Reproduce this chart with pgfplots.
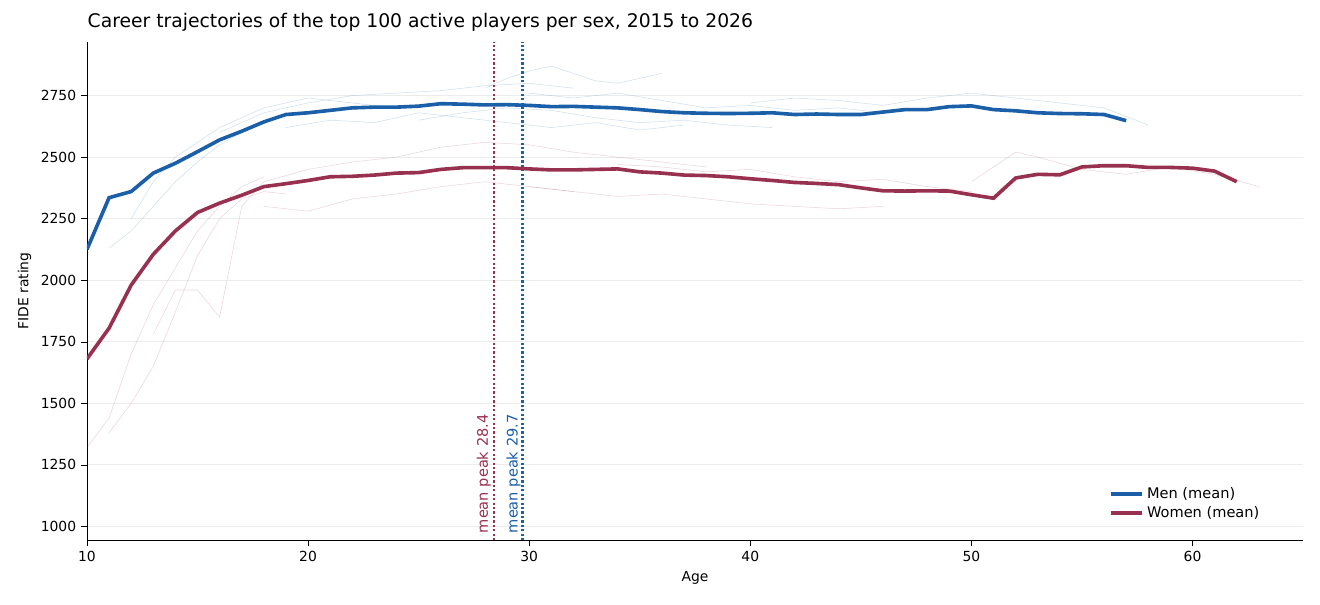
\documentclass[border=0pt]{standalone}
\usepackage{pgfplots}
\pgfplotsset{compat=1.18}
\usepackage{fontspec}
\setmainfont{DejaVu Sans}
\definecolor{menc}{HTML}{1A5FA8}
\definecolor{womc}{HTML}{98304F}
\begin{document}
\begin{tikzpicture}
\begin{axis}[
  scale only axis, width=875.5pt, height=359pt,
  xmin=10, xmax=65, ymin=943, ymax=2969,
  axis lines=left, axis line style={-},
  tick align=outside, tick style={black},
  xtick={10,20,30,40,50,60}, ytick={1000,1250,1500,1750,2000,2250,2500,2750},
  ymajorgrids, grid style={gray!15},
  /pgf/number format/assume math mode=true,
  /pgf/number format/1000 sep={},
  tick label style={font=\fontsize{10}{12}\selectfont},
  xlabel={Age}, ylabel={FIDE rating},
  label style={font=\fontsize{10}{12}\selectfont},
  title={Career trajectories of the top 100 active players per sex, 2015 to 2026},
  title style={font=\fontsize{13.5}{15}\selectfont, anchor=south west, at={(rel axis cs:0,1)}, yshift=-2pt, xshift=-3pt},
  legend pos=south east, legend cell align=left,
  legend style={draw=none, fill=white, font=\fontsize{10.5}{13}\selectfont},
  legend image code/.code={\draw[#1] (0cm,0cm) -- (0.8cm,0cm);},
]
% faint individual trajectories (men)
\addplot[menc, opacity=0.2, forget plot] coordinates {(16,2600)(18,2680)(20,2720)(22,2750)(24,2760)(26,2770)(28,2790)(30,2800)(32,2780)};
\addplot[menc, opacity=0.2, forget plot] coordinates {(12,2250)(13,2400)(14,2500)(16,2620)(18,2700)(20,2740)(22,2720)(24,2700)};
\addplot[menc, opacity=0.2, forget plot] coordinates {(25,2650)(27,2680)(29,2700)(31,2690)(33,2660)(35,2640)(37,2650)(39,2630)(41,2620)};
\addplot[menc, opacity=0.2, forget plot] coordinates {(40,2720)(42,2740)(44,2730)(46,2710)(48,2740)(50,2760)(52,2740)(54,2720)(56,2700)(58,2630)};
\addplot[menc, opacity=0.2, forget plot] coordinates {(28,2780)(29,2820)(30,2850)(31,2870)(32,2840)(33,2810)(34,2800)(36,2840)};
\addplot[menc, opacity=0.2, forget plot] coordinates {(11,2130)(12,2200)(13,2300)(14,2400)(15,2480)(16,2550)(17,2600)(18,2640)};
\addplot[menc, opacity=0.2, forget plot] coordinates {(19,2620)(21,2650)(23,2640)(25,2680)(27,2660)(29,2640)(31,2620)(33,2640)(35,2610)(37,2630)};
\addplot[menc, opacity=0.2, forget plot] coordinates {(30,2760)(32,2740)(34,2760)(36,2730)(38,2700)(40,2710)(42,2690)(44,2700)(46,2680)};
% faint individual trajectories (women)
\addplot[womc, opacity=0.2, forget plot] coordinates {(10,1320)(11,1440)(12,1700)(13,1900)(14,2050)(15,2200)(16,2300)(17,2380)(18,2420)};
\addplot[womc, opacity=0.2, forget plot] coordinates {(13,1780)(14,1960)(15,1960)(16,1850)(17,2300)(18,2400)(20,2450)(22,2480)(24,2500)};
\addplot[womc, opacity=0.2, forget plot] coordinates {(24,2500)(26,2540)(28,2560)(30,2550)(32,2520)(34,2500)(36,2480)(38,2460)};
\addplot[womc, opacity=0.2, forget plot] coordinates {(30,2380)(32,2360)(34,2340)(36,2350)(38,2330)(40,2310)(42,2300)(44,2290)(46,2300)};
\addplot[womc, opacity=0.2, forget plot] coordinates {(50,2400)(52,2520)(53,2500)(55,2450)(57,2430)(59,2460)(61,2430)(63,2380)};
\addplot[womc, opacity=0.2, forget plot] coordinates {(18,2300)(20,2280)(22,2330)(24,2350)(26,2380)(28,2400)(30,2380)(32,2360)};
\addplot[womc, opacity=0.2, forget plot] coordinates {(11,1380)(12,1500)(13,1650)(14,1870)(15,2100)(16,2250)(17,2330)(18,2360)(19,2350)};
\addplot[womc, opacity=0.2, forget plot] coordinates {(34,2470)(36,2460)(38,2440)(40,2450)(42,2420)(44,2400)(46,2410)(48,2380)(50,2360)};
% peaks
\addplot[womc, dash pattern=on 1.6pt off 1.6pt, line width=1.6pt, forget plot] coordinates {(28.4,943)(28.4,2969)};
\addplot[menc, dash pattern=on 1.6pt off 1.6pt, line width=1.6pt, forget plot] coordinates {(29.7,943)(29.7,2969)};
\node[rotate=90, anchor=east, text=womc, font=\fontsize{10.5}{12}\selectfont, xshift=-1pt] at (axis cs:27.95,1480) {mean peak 28.4};
\node[rotate=90, anchor=east, text=menc, font=\fontsize{10.5}{12}\selectfont, xshift=-1pt] at (axis cs:29.3,1480) {mean peak 29.7};
% means
\addplot[menc, line width=2.6pt] coordinates {(10,2125)(11,2335)(12,2360)(13,2435)(14,2475)(15,2522)(16,2570)(17,2605)(18,2643)(19,2673)(20,2680)(21,2690)(22,2700)(23,2703)(24,2703)(25,2707)(26,2717)(27,2715)(28,2712)(29,2713)(30,2710)(31,2705)(32,2706)(33,2703)(34,2700)(35,2693)(36,2685)(37,2680)(38,2678)(39,2677)(40,2678)(41,2680)(42,2673)(43,2675)(44,2673)(45,2673)(46,2683)(47,2693)(48,2693)(49,2705)(50,2708)(51,2693)(52,2688)(53,2680)(54,2677)(55,2676)(56,2673)(57,2648)};
\addlegendentry{Men (mean)}
\addplot[womc, line width=2.6pt] coordinates {(10,1680)(11,1805)(12,1980)(13,2105)(14,2200)(15,2275)(16,2313)(17,2345)(18,2380)(19,2392)(20,2405)(21,2420)(22,2422)(23,2427)(24,2435)(25,2437)(26,2450)(27,2457)(28,2457)(29,2457)(30,2452)(31,2448)(32,2448)(33,2450)(34,2452)(35,2440)(36,2435)(37,2427)(38,2425)(39,2420)(40,2412)(41,2405)(42,2397)(43,2393)(44,2388)(45,2375)(46,2363)(47,2362)(48,2363)(49,2362)(50,2347)(51,2333)(52,2415)(53,2430)(54,2428)(55,2460)(56,2465)(57,2465)(58,2458)(59,2458)(60,2455)(61,2443)(62,2400)};
\addlegendentry{Women (mean)}
\end{axis}
\pgfresetboundingbox
\path (current axis.south west) ++(-62.6pt,-46pt) (current axis.north east) ++(12.2pt,30pt);
\end{tikzpicture}
\end{document}
